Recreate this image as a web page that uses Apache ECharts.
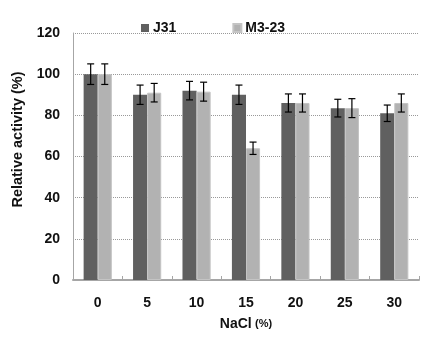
<!DOCTYPE html>
<html>
<head>
<meta charset="utf-8">
<script src="https://cdn.jsdelivr.net/npm/echarts@6/dist/echarts.min.js"></script>
<style>
html, body { margin: 0; padding: 0; background: #fff; }
#chart { width: 445px; height: 343px; }
</style>
</head>
<body>
<div id="chart"></div>
<script>
const categories = ['0', '5', '10', '15', '20', '25', '30']
const j31 = [100, 90, 92, 90, 86, 83.5, 81]
const m323 = [100, 91, 91.5, 64, 86, 83.5, 86]
const j31Err = [5, 4.7, 4.5, 4.7, 4.4, 4.3, 4]
const m323Err = [5, 4.5, 4.6, 3, 4.4, 4.6, 4.4]
const yTicks = [0, 20, 40, 60, 80, 100, 120]

const FONT = '"Liberation Sans", Arial, sans-serif'
const catGap = 0.43

function errData(vals, errs) {
    return vals.map((v, i) => [i, v - errs[i], v + errs[i]])
}

function errSeries(name, data, side) {
    return {
        name: name,
        type: 'custom',
        z: 5,
        data: data,
        encode: { x: 0, y: [1, 2] },
        renderItem: function (params, api) {
            const cat = api.value(0)
            const lo = api.coord([cat, api.value(1)])
            const hi = api.coord([cat, api.value(2)])
            const bw = api.size([1, 0])[0] * (1 - catGap) / 2
            const x = lo[0] + side * bw / 2
            const cap = 3.5
            const style = { stroke: '#000', lineWidth: 1.2 }
            return {
                type: 'group',
                children: [
                    { type: 'line', shape: { x1: x, y1: lo[1], x2: x, y2: hi[1] }, style: style },
                    { type: 'line', shape: { x1: x - cap, y1: lo[1], x2: x + cap, y2: lo[1] }, style: style },
                    { type: 'line', shape: { x1: x - cap, y1: hi[1], x2: x + cap, y2: hi[1] }, style: style }
                ]
            }
        }
    }
}

const chart = echarts.init(document.getElementById('chart'))
chart.setOption({
    animation: false,
    textStyle: { fontFamily: FONT },
    grid: { left: 73, right: 26, top: 33, bottom: 63 },
    legend: {
        data: ['J31', 'M3-23'],
        left: 136,
        top: 16,
        itemWidth: 8,
        itemHeight: 8,
        itemGap: 56,
        icon: 'rect',
        textStyle: { fontFamily: FONT, fontSize: 14, fontWeight: 'bold', color: '#111', padding: [0, 0, 0, -1] }
    },
    xAxis: {
        type: 'category',
        data: categories,
        name: '{a|NaCl} {b|(%)}',
        nameLocation: 'middle',
        nameGap: 37,
        nameTextStyle: {
            rich: {
                a: { fontFamily: FONT, fontSize: 14, fontWeight: 'bold', color: '#111' },
                b: { fontFamily: FONT, fontSize: 11, fontWeight: 'bold', color: '#111' }
            }
        },
        axisLine: { lineStyle: { color: '#a6a6a6', width: 2 } },
        axisTick: { show: true, inside: true, length: 4, lineStyle: { color: '#a6a6a6' } },
        axisLabel: { margin: 16, fontFamily: FONT, fontSize: 14, fontWeight: 'bold', color: '#111' }
    },
    yAxis: {
        type: 'value',
        min: 0,
        max: 120,
        interval: 20,
        name: 'Relative activity (%)',
        nameLocation: 'middle',
        nameGap: 46,
        nameTextStyle: {
            fontFamily: FONT, fontSize: 14.5, fontWeight: 'bold', color: '#111',
            padding: [0, 0, 0, 34]
        },
        axisLine: { show: true, lineStyle: { color: '#a6a6a6', width: 1 } },
        axisTick: { show: false },
        axisLabel: {
            margin: 13, fontFamily: FONT, fontSize: 14, fontWeight: 'bold', color: '#111',
            formatter: v => yTicks.includes(v) ? String(v) : ''
        },
        splitLine: { lineStyle: { color: '#999', type: 'dotted', width: 1 } }
    },
    series: [
        {
            name: 'J31',
            type: 'bar',
            data: j31,
            barGap: '0%',
            barCategoryGap: (catGap * 100) + '%',
            itemStyle: { color: '#606060' }
        },
        {
            name: 'M3-23',
            type: 'bar',
            data: m323,
            itemStyle: { color: '#b2b2b2', borderColor: '#c4c4c4', borderWidth: 1 }
        },
        errSeries('J31 err', errData(j31, j31Err), -1),
        errSeries('M3-23 err', errData(m323, m323Err), 1)
    ]
})
window.addEventListener('resize', () => {
    chart.resize()
})
</script>
</body>
</html>
